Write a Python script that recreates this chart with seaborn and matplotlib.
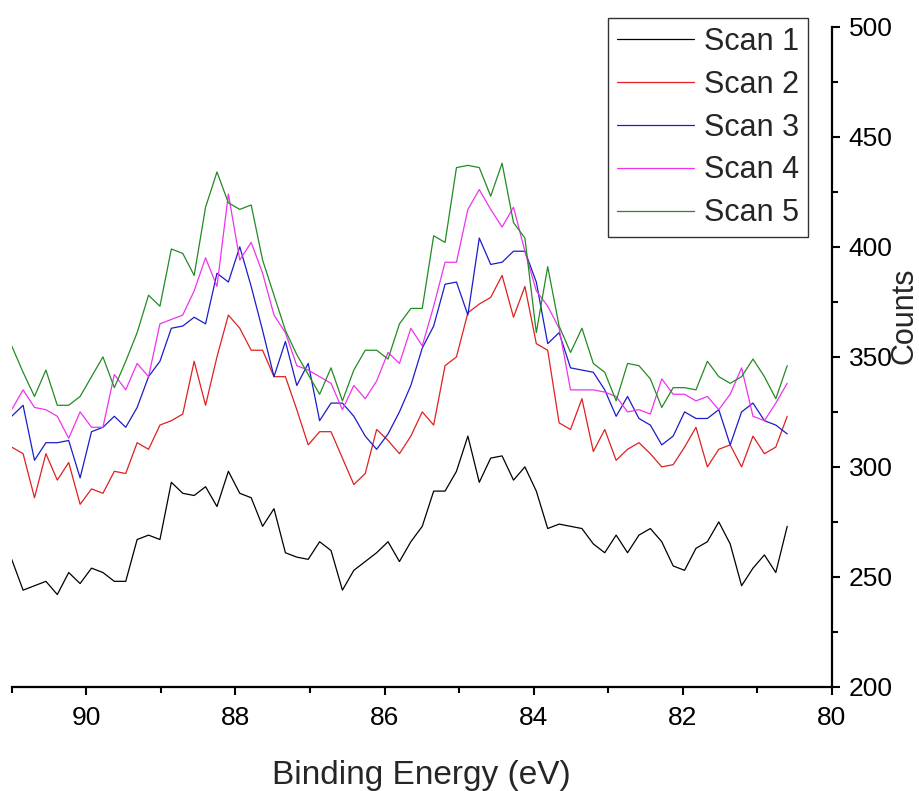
import numpy as np
import pandas as pd
import matplotlib
matplotlib.use("Agg")
import matplotlib.pyplot as plt
from matplotlib.ticker import MultipleLocator
import seaborn as sns

# Binding-energy grid of the scans (eV), high to low
energy = np.linspace(91.0, 80.6, 69)

scan1 = [258, 244, 246, 248, 242, 252, 247, 254, 252, 248, 248, 267, 269, 267,
         293, 288, 287, 291, 282, 298, 288, 286, 273, 281, 261, 259, 258, 266,
         262, 244, 253, 257, 261, 266, 257, 266, 273, 289, 289, 298, 314, 293,
         304, 305, 294, 300, 289, 272, 274, 273, 272, 265, 261, 269, 261, 269,
         272, 266, 255, 253, 263, 266, 275, 265, 246, 254, 260, 252, 273]
scan2 = [309, 306, 286, 306, 294, 302, 283, 290, 288, 298, 297, 311, 308, 319,
         321, 324, 348, 328, 350, 369, 363, 353, 353, 341, 341, 326, 310, 316,
         316, 304, 292, 297, 317, 312, 306, 314, 325, 319, 346, 350, 370, 374,
         377, 387, 368, 382, 356, 353, 320, 317, 331, 307, 317, 303, 308, 311,
         306, 300, 301, 309, 318, 300, 308, 310, 300, 314, 306, 309, 323]
scan3 = [323, 328, 303, 311, 311, 312, 295, 316, 318, 323, 318, 327, 341, 348,
         363, 364, 368, 365, 388, 384, 400, 382, 362, 341, 357, 337, 347, 321,
         329, 329, 323, 314, 308, 315, 325, 337, 354, 364, 383, 384, 369, 404,
         392, 393, 398, 398, 384, 356, 361, 345, 344, 343, 335, 323, 332, 322,
         319, 310, 314, 325, 322, 322, 326, 310, 325, 329, 321, 319, 315]
scan4 = [326, 335, 327, 326, 323, 313, 325, 318, 318, 342, 335, 347, 341, 365,
         367, 369, 380, 395, 382, 424, 394, 402, 388, 369, 361, 346, 344, 341,
         338, 326, 337, 331, 339, 352, 347, 363, 355, 373, 393, 393, 417, 426,
         417, 409, 418, 398, 380, 373, 363, 335, 335, 335, 334, 332, 325, 326,
         324, 340, 333, 333, 330, 332, 326, 333, 345, 323, 321, 329, 338]
scan5 = [355, 343, 332, 344, 328, 328, 332, 341, 350, 336, 348, 361, 378, 373,
         399, 397, 387, 418, 434, 420, 417, 419, 394, 378, 362, 351, 342, 333,
         345, 330, 344, 353, 353, 349, 365, 372, 372, 405, 402, 436, 437, 436,
         423, 438, 411, 404, 361, 391, 364, 352, 363, 347, 343, 330, 347, 346,
         340, 327, 336, 336, 335, 348, 341, 338, 341, 349, 341, 331, 346]

labels = ["Scan 1", "Scan 2", "Scan 3", "Scan 4", "Scan 5"]
colors = ["#000000", "#e02020", "#1c1cc8", "#ee33ee", "#228B22"]

df = pd.concat(
    [pd.DataFrame({"Binding Energy (eV)": energy, "Counts": vals, "Scan": lab})
     for lab, vals in zip(labels, [scan1, scan2, scan3, scan4, scan5])],
    ignore_index=True,
)

sns.set_style("white")
plt.rcParams["font.family"] = ["Liberation Sans", "DejaVu Sans"]

fig = plt.figure(figsize=(9.2, 7.91), dpi=100)
ax = fig.add_axes([0.0127, 0.1315, 0.8916, 0.8347])

sns.lineplot(data=df, x="Binding Energy (eV)", y="Counts", hue="Scan",
             palette=dict(zip(labels, colors)), linewidth=0.9, ax=ax,
             estimator=None, sort=False)

ax.set_xlim(91, 80)
ax.set_ylim(200, 500)
ax.xaxis.set_major_locator(MultipleLocator(2))
ax.xaxis.set_minor_locator(MultipleLocator(1))
ax.yaxis.set_major_locator(MultipleLocator(50))
ax.yaxis.set_minor_locator(MultipleLocator(25))

for side in ("left", "top"):
    ax.spines[side].set_visible(False)
for side in ("bottom", "right"):
    ax.spines[side].set_visible(True)
    ax.spines[side].set_linewidth(1.6)
    ax.spines[side].set_color("black")

ax.yaxis.tick_right()
ax.yaxis.set_label_position("right")
ax.tick_params(axis="both", which="major", direction="out", length=6,
               width=1.5, labelsize=19, colors="black")
ax.tick_params(axis="both", which="minor", direction="out", length=4,
               width=1.5, colors="black")
ax.tick_params(axis="x", which="both", bottom=True, top=False, pad=8)
ax.tick_params(axis="y", which="both", right=True, left=False, pad=6)

ax.set_xlabel("Binding Energy (eV)", fontsize=24, labelpad=21)
ax.set_ylabel("Counts", fontsize=22, rotation=90, va="center", ha="center")
ax.yaxis.set_label_coords(1.088, 0.562)

leg = ax.legend(loc="upper right", bbox_to_anchor=(0.9707, 1.0136),
                borderaxespad=0, fontsize=22, frameon=True, fancybox=False,
                handlelength=2.5, handletextpad=0.33, labelspacing=0.42,
                borderpad=0.3)
leg.get_frame().set_edgecolor("black")
leg.get_frame().set_linewidth(1.0)
for line in leg.get_lines():
    line.set_linewidth(0.9)

fig.savefig("out.png", dpi=100, facecolor="white")
